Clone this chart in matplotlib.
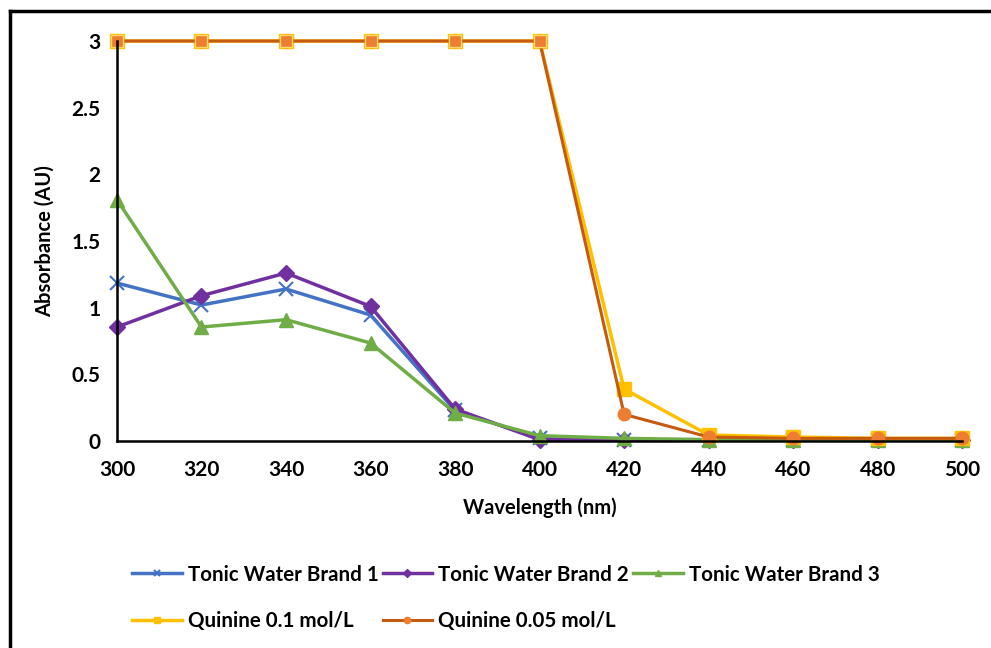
import matplotlib
matplotlib.use("Agg")
import matplotlib.pyplot as plt
from matplotlib.lines import Line2D

wavelength = [300, 320, 340, 360, 380, 400, 420, 440, 460, 480, 500]
brand1 = [1.185, 1.02, 1.14, 0.945, 0.23, 0.02, 0.01, 0.01, 0.01, 0.01, 0.01]
brand2 = [0.855, 1.09, 1.26, 1.01, 0.24, 0.01, 0.01, 0.01, 0.01, 0.01, 0.01]
brand3 = [1.81, 0.855, 0.91, 0.735, 0.21, 0.04, 0.02, 0.01, 0.01, 0.01, 0.01]
quin01 = [3, 3, 3, 3, 3, 3, 0.39, 0.045, 0.03, 0.02, 0.02]
quin005 = [3, 3, 3, 3, 3, 3, 0.2, 0.03, 0.02, 0.02, 0.02]

plt.rcParams['font.family'] = ['Lato', 'DejaVu Sans']

fig = plt.figure(figsize=(9.91, 6.48), dpi=100)
ax = fig.add_axes([0.118, 0.3194, 0.853, 0.6173])

l1, = ax.plot(wavelength, brand1, color='#4472C4', lw=2.5, marker='x', ms=10, mew=1.5,
              clip_on=False, label='Tonic Water Brand 1')
l2, = ax.plot(wavelength, brand2, color='#7030A0', lw=2.5, marker='D', ms=8,
              clip_on=False, label='Tonic Water Brand 2')
l3, = ax.plot(wavelength, brand3, color='#70AD47', lw=2.5, marker='^', ms=10,
              clip_on=False, label='Tonic Water Brand 3')
l4, = ax.plot(wavelength, quin01, color='#FFC000', lw=2.5, marker='s', ms=10,
              clip_on=False, label='Quinine 0.1 mol/L')
l5, = ax.plot(wavelength, quin005, color='#C55A11', lw=2.2, marker='o', ms=9,
              mfc='#ED7D31', mec='#ED7D31', clip_on=False, label='Quinine 0.05 mol/L')
# orange squares on top of the yellow ones up to 400 nm
ax.plot(wavelength[:6], quin005[:6], ls='none', marker='s', ms=9,
        mfc='#ED7D31', mec='#FFD966', mew=1, clip_on=False)

ax.set_xlim(300, 500)
ax.set_ylim(0, 3)
ax.set_xticks(wavelength)
ax.set_yticks([0, 0.5, 1, 1.5, 2, 2.5, 3])
ax.set_yticklabels(['0', '0.5', '1', '1.5', '2', '2.5', '3'])
ax.tick_params(length=0, labelsize=15)
ax.tick_params(axis='x', pad=14)
ax.tick_params(axis='y', pad=12)
for t in ax.get_xticklabels() + ax.get_yticklabels():
    t.set_fontweight('bold')
ax.spines['top'].set_visible(False)
ax.spines['right'].set_visible(False)
ax.spines['left'].set_linewidth(1.8)
ax.spines['bottom'].set_linewidth(1.8)
ax.set_xlabel('Wavelength (nm)', fontsize=14.5, fontweight='bold', labelpad=12)
ax.set_ylabel('Absorbance (AU)', fontsize=14.5, fontweight='bold', labelpad=12)

fig.legend(handles=[l1, l4, l2, l5, l3], loc='center', ncol=3,
           bbox_to_anchor=(506 / 991, 1 - 598 / 648), frameon=False,
           prop={'size': 14.8, 'weight': 'bold'}, handlelength=2.4, markerscale=0.5,
           columnspacing=0.2, handletextpad=0.3, labelspacing=1.3)

# outer frame (top and left edges visible)
fig.add_artist(Line2D([10 / 991, 10 / 991], [0, 1 - 11 / 648], color='black', lw=2.5))
fig.add_artist(Line2D([10 / 991, 1], [1 - 11 / 648, 1 - 11 / 648], color='black', lw=2.5))

fig.savefig('out.png', dpi=100)
